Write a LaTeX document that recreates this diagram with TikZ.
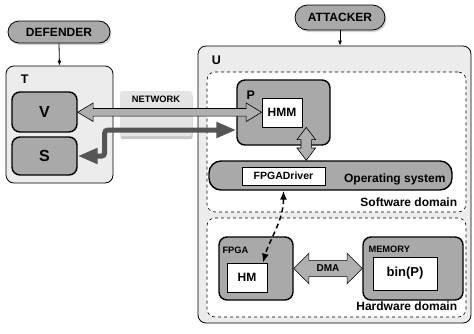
\documentclass[tikz,border=0pt]{standalone}
\usepackage{fontspec}
\setmainfont{Liberation Sans}
\usepackage{tikz}
\usepackage{xcolor}
\usetikzlibrary{arrows.meta,positioning,shapes,shadows,calc}
\definecolor{hostbg}{HTML}{ECECEC}
\definecolor{compgray}{HTML}{A9A9A9}
\definecolor{arrgray}{HTML}{AFAFAF}
\definecolor{darkflow}{HTML}{555555}
\definecolor{netbg}{HTML}{E4E4E4}
\tikzset{
  actor/.style={rounded rectangle,draw=black,fill=compgray,line width=0.8pt,
                drop shadow={shadow xshift=1.5pt,shadow yshift=-2pt,opacity=0.35},
                inner sep=0pt,font=\bfseries\fontsize{12}{14}\selectfont},
  hostbox/.style={draw=black,fill=hostbg,rounded corners=8pt,line width=0.8pt,inner sep=0pt},
  domainbox/.style={draw=black,fill=white,dashed,rounded corners=8pt,line width=0.6pt,inner sep=0pt},
  compbox/.style={draw=black,fill=compgray,rounded corners=8pt,line width=1.4pt,inner sep=0pt},
  codebox/.style={draw=black,fill=white,line width=0.7pt,inner sep=0pt,
                  font=\bfseries\fontsize{12}{14}\selectfont},
  netbox/.style={draw=none,fill=netbg,rounded corners=2pt,inner sep=0pt,
                 drop shadow={shadow xshift=0.5pt,shadow yshift=-3pt,opacity=0.45}},
  hostlabel/.style={inner sep=0pt,font=\bfseries\fontsize{12.5}{14}\selectfont},
  smalllabel/.style={inner sep=0pt,font=\bfseries\fontsize{9.3}{11}\selectfont},
  domlabel/.style={inner sep=0pt,font=\bfseries\fontsize{12}{14}\selectfont},
  blockarr/.style={double arrow,draw=black,fill=arrgray,line width=0.6pt,inner xsep=0pt},
  actorarr/.style={-{Latex[length=5pt,width=4pt]},line width=0.8pt},
  dataarr/.style={{Triangle[length=20pt,width=15pt]}-{Triangle[length=20pt,width=15pt]},
                  draw=darkflow,line width=5pt,rounded corners=3pt},
  ctrlarr/.style={{Latex[length=9pt,width=7pt]}-{Latex[length=9pt,width=7pt]},
                  dash pattern=on 5pt off 3.5pt,line width=1.5pt}
}

\begin{document}
\begin{tikzpicture}[x=1pt,y=-1pt,>=Latex]
  \useasboundingbox (0,0) rectangle (474,333);
  % attacker side
  \node[hostbox,minimum width=273pt,minimum height=277pt] (U) at (334.5,184.5) {};
  \node[hostlabel,anchor=base west] at ([shift={(14,19)}]U.north west) {U};
  \node[domainbox,minimum width=259pt,minimum height=140pt] (sw) at (336.5,142) {};
  \node[domlabel,anchor=base east] at ([shift={(-9,-6)}]sw.south east) {Software domain};
  \node[domainbox,minimum width=259pt,minimum height=99pt] (hw) at (336.5,267.5) {};
  \node[domlabel,anchor=base east] at ([shift={(-9,-7)}]hw.south east) {Hardware domain};
  \node[actor,minimum width=90pt,minimum height=25pt] (attacker) at (340,17.5) {ATTACKER};
  \draw[actorarr] (attacker.south) -- (attacker.south |- U.north);
  % defender side
  \node[hostbox,minimum width=107pt,minimum height=117pt] (T) at (59.5,124.5) {};
  \node[hostlabel,anchor=base west] at ([shift={(15,18)}]T.north west) {T};
  \node[actor,minimum width=102pt,minimum height=22pt] (defender) at (59,32) {DEFENDER};
  \draw[actorarr] (defender.south) -- (T.north);
  \node[compbox,minimum width=65pt,minimum height=40pt,
        font=\bfseries\fontsize{16}{18}\selectfont] (V) at (44.5,112) {V};
  \node[compbox,minimum width=65pt,minimum height=38pt,
        font=\bfseries\fontsize{16}{18}\selectfont] (S) at (44.5,156) {S};
  \node[netbox,minimum width=72pt,minimum height=45pt] (network) at (156,113.5) {};
  \node[smalllabel,anchor=base] at ([yshift=-12pt]network.north) {NETWORK};
  % software domain
  \node[compbox,minimum width=93pt,minimum height=65pt] (P) at (283.5,112.5) {};
  \node[hostlabel,anchor=base west] at ([shift={(10,20)}]P.north west) {P};
  \node[codebox,minimum width=40pt,minimum height=29pt] (HMM) at (282,112.5) {HMM};
  \node[compbox,rounded corners=12pt,minimum width=243pt,minimum height=29pt] (os) at (330.5,175.5) {};
  \node[domlabel,anchor=base east] at ([shift={(-7,7)}]os.east) {Operating system};
  \node[codebox,minimum width=83pt,minimum height=18pt,
        font=\bfseries\fontsize{10.5}{12}\selectfont] (fpgadrv) at (283.5,176) {FPGADriver};
  % hardware domain
  \node[compbox,minimum width=74pt,minimum height=63pt] (FPGA) at (256,268.5) {};
  \node[smalllabel,anchor=base west] at ([shift={(4,17)}]FPGA.north west) {FPGA};
  \node[codebox,minimum width=40pt,minimum height=29pt] (HM) at (247,277.5) {HM};
  \node[compbox,minimum width=100pt,minimum height=63pt] (memory) at (413,268.5) {};
  \node[smalllabel,anchor=base west] at ([shift={(6,16)}]memory.north west) {MEMORY};
  \node[codebox,minimum width=64pt,minimum height=33pt,
        font=\bfseries\fontsize{13}{15}\selectfont] (binP) at (405,273.5) {bin(P)};
  % flows
  \path let \p1=($(HMM.west)-(V.east)$) in
    node[blockarr,inner ysep=3.5pt,double arrow head extend=5.5pt,double arrow tip angle=62,
         minimum height=\x1] (query) at ($(V.east)!0.5!(HMM.west)$) {};
  \draw[dataarr] ([yshift=-17.5pt]P.west) -| ([xshift=27pt]S.east) -- (S.east);
  \path let \p1=($(HMM.south)-(os.north)$) in
    node[blockarr,rotate=90,inner ysep=5pt,double arrow head extend=4pt,double arrow tip angle=74,
         minimum height=\y1] (hmmos) at ($(HMM.south)!0.5!(os.north)$) {};
  \path let \p1=($(memory.west)-(FPGA.east)$) in
    node[blockarr,inner ysep=4.4pt,double arrow head extend=7pt,double arrow tip angle=90,
         minimum height=\x1,font=\bfseries\fontsize{10}{12}\selectfont] (dma)
         at ($(FPGA.east)!0.5!(memory.west)$) {DMA};
  \draw[ctrlarr] (os.south -| fpgadrv) .. controls +(0,30) and +(6,-22) .. ([xshift=16pt]HM.north);
\end{tikzpicture}
\end{document}
